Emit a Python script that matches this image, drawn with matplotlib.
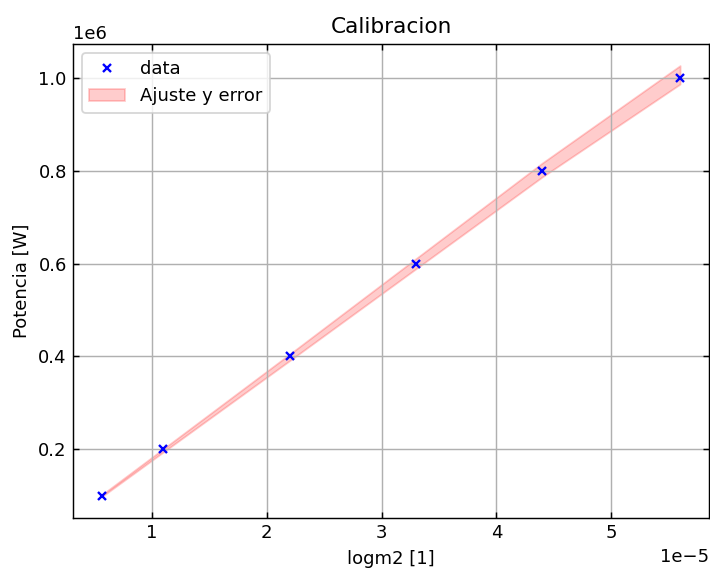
import numpy as np
import matplotlib.pyplot as plt

# data
x_data = np.array([0.565, 1.1, 2.2, 3.3, 4.4, 5.6]) * 1e-5
y_data = np.array([0.1, 0.2, 0.4, 0.6, 0.8, 1.0]) * 1e6

# fit band edges at the same x values
band_low = np.array([0.098, 0.194, 0.391, 0.589, 0.787, 0.987]) * 1e6
band_high = np.array([0.102, 0.201, 0.405, 0.611, 0.817, 1.027]) * 1e6

dpi = 130
fig = plt.figure(figsize=(710 / dpi, 568 / dpi), dpi=dpi)
ax = fig.add_subplot(111)
fig.subplots_adjust(left=0.103, right=0.9986, top=0.9225, bottom=0.088)

ax.plot(x_data, y_data, 'x', color='blue', markersize=4.5, mew=1.3, label='data')
ax.fill_between(x_data, band_low, band_high, color='red', alpha=0.2,
                linewidth=1, label='Ajuste y error')

ax.set_title('Calibracion')
ax.set_xlabel('logm2 [1]')
ax.set_ylabel('Potencia [W]')
ax.grid(True)
ax.tick_params(direction='in', top=True, right=True)
ax.legend(loc='upper left')

fig.savefig('out.png', dpi=dpi)
